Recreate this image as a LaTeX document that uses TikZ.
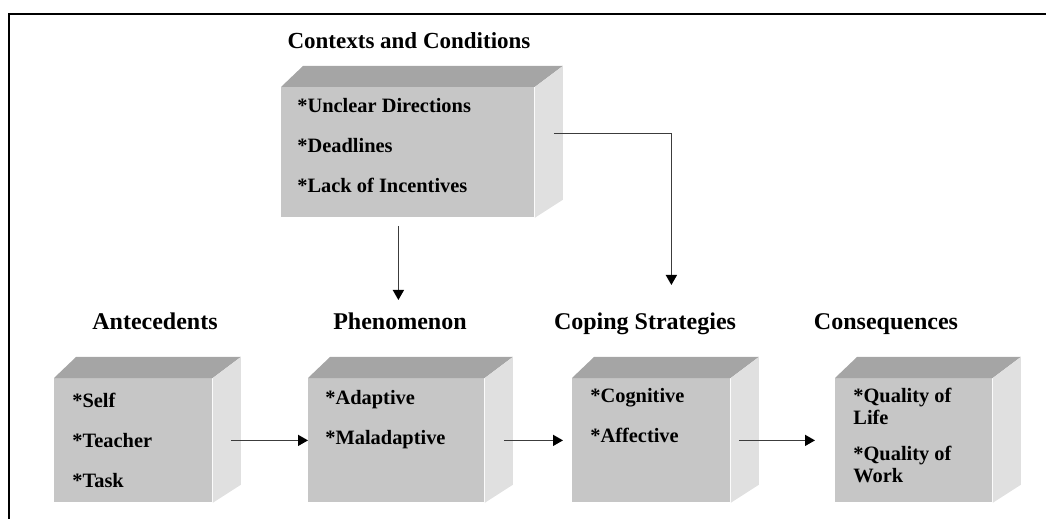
\documentclass[tikz,border=0pt]{standalone}
\usepackage{fontspec}
\setmainfont{Liberation Serif}
\usetikzlibrary{arrows.meta}

\definecolor{frontgray}{RGB}{198,198,198}
\definecolor{topgray}{RGB}{165,165,165}
\definecolor{sidegray}{RGB}{224,224,224}
\definecolor{linegray}{RGB}{60,60,60}

\tikzset{
    face/.style={fill=frontgray, anchor=north west, inner sep=0pt, minimum height=62pt},
    heading/.style={anchor=base, inner sep=0pt, font=\fontsize{12}{14}\selectfont\bfseries},
    items/.style={anchor=north west, align=left, inner sep=0pt, font=\fontsize{10.2}{11}\selectfont\bfseries},
    link/.style={draw=linegray, line width=0.75pt, -{Triangle[length=5pt,width=5.5pt,color=black]}}
}

\begin{document}
\begin{tikzpicture}[x=0.5pt, y=-0.5pt]
    \useasboundingbox (0,0) rectangle (1046,519);
    \draw[line width=1.2pt] (9,519) -- (9,14) -- (1046,14);

    \node[face, minimum width=126.5pt, minimum height=65pt] (ctx) at (281,87) {};
    \node[face, minimum width=79pt] (ant) at (54,378) {};
    \node[face, minimum width=88pt] (phe) at (308,378) {};
    \node[face, minimum width=79pt] (cop) at (572,378) {};
    \node[face, minimum width=78.5pt] (con) at (835,378) {};

    \foreach \b in {ctx,ant,phe,cop,con} {
        \fill[topgray] (\b.north west) -- ++(22,-21) -- ([shift={(28,-21)}]\b.north east) -- (\b.north east) -- cycle;
        \fill[sidegray] (\b.north east) -- ++(28,-21) -- ([shift={(28,-18)}]\b.south east) -- (\b.south east) -- cycle;
    }

    \node[heading, font=\fontsize{11.5}{14}\selectfont\bfseries] (ctx-title) at (409,49) {Contexts and Conditions};
    \node[heading] (ant-title) at (155,329) {Antecedents};
    \node[heading] (phe-title) at (400,329) {Phenomenon};
    \node[heading] (cop-title) at (645,329) {Coping Strategies};
    \node[heading] (con-title) at (886,329) {Consequences};

    \node[items] (ctx-list) at ([shift={(16,11)}]ctx.north west) {*Unclear Directions\\[9pt]*Deadlines\\[9pt]*Lack of Incentives};
    \node[items] (ant-list) at ([shift={(18,15)}]ant.north west) {*Self\\[9pt]*Teacher\\[9pt]*Task};
    \node[items] (phe-list) at ([shift={(17,12)}]phe.north west) {*Adaptive\\[9pt]*Maladaptive};
    \node[items] (cop-list) at ([shift={(18,10)}]cop.north west) {*Cognitive\\[9pt]*Affective};
    \node[items] (con-list) at ([shift={(18,10)}]con.north west) {*Quality of\\Life\\[7pt]*Quality of\\Work};

    \draw[link] ([shift={(-9.5,8)}]ctx.south) -- ([shift={(2,-78)}]phe.north);
    \draw[link] ([shift={(19,-19)}]ctx.east) -| ([shift={(20,-93)}]cop.north);
    \draw[link] ([shift={(18,0)}]ant.east) -- (phe.west);
    \draw[link] ([shift={(19,0)}]phe.east) -- ([shift={(-9,0)}]cop.west);
    \draw[link] ([shift={(8,0)}]cop.east) -- ([shift={(-20,0)}]con.west);
\end{tikzpicture}
\end{document}
